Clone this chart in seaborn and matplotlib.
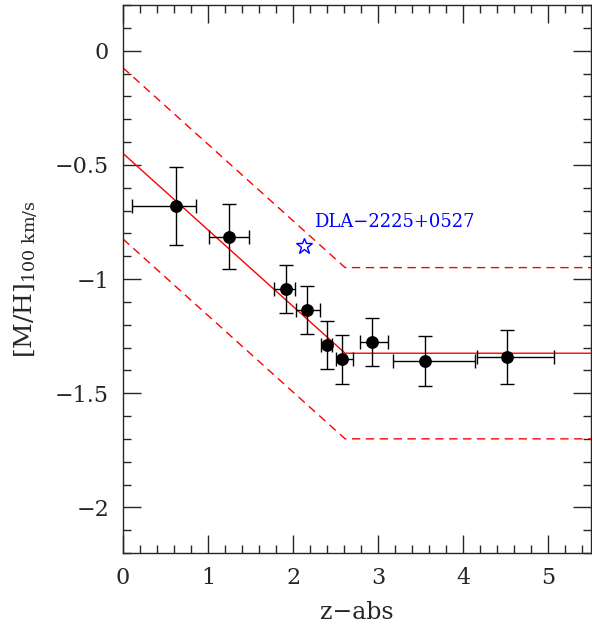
import numpy as np
import pandas as pd
import matplotlib
matplotlib.use("Agg")
import matplotlib.pyplot as plt
import seaborn as sns
from matplotlib.ticker import MultipleLocator, FuncFormatter

# ---- data ----
z_abs = [0.62, 1.25, 1.92, 2.165, 2.40, 2.575, 2.925, 3.545, 4.51]
mh = [-0.68, -0.814, -1.044, -1.134, -1.29, -1.352, -1.277, -1.36, -1.342]
z_lo = [0.51, 0.24, 0.15, 0.135, 0.07, 0.075, 0.145, 0.375, 0.355]
z_hi = [0.24, 0.225, 0.10, 0.145, 0.06, 0.125, 0.195, 0.595, 0.56]
mh_err = [0.172, 0.143, 0.107, 0.105, 0.105, 0.107, 0.105, 0.11, 0.117]

# fit: linear decline then flat, with +-scatter band
fit_z = [0.0, 2.61, 5.5]
fit_mh = [-0.45, -1.325, -1.325]
band = 0.375

dla_name = "DLA\u22122225+0527"
dla_z = [2.125]
dla_mh = [-0.857]

df = pd.DataFrame({"z": z_abs, "mh": mh})
fit = pd.DataFrame({"z": fit_z, "mh": fit_mh})

sns.set_style("ticks")
plt.rcParams["font.family"] = ["DejaVu Serif", "DejaVu Sans"]
plt.rcParams["mathtext.fontset"] = "dejavuserif"

fig = plt.figure(figsize=(5.92, 6.28), dpi=100)
ax = fig.add_axes([0.2078, 0.1194, 0.7905, 0.8726])

# fit lines
sns.lineplot(data=fit, x="z", y="mh", color="red", lw=1.0, ax=ax, zorder=2)
for s in (band, -band):
    ax.plot(fit["z"], fit["mh"] + s, color="red", lw=1.0, ls=(0, (6, 4)), zorder=2)

# data with error bars
ax.errorbar(z_abs, mh, xerr=[z_lo, z_hi], yerr=mh_err, fmt="none",
            ecolor="black", elinewidth=1.0, capsize=5, capthick=1.0, zorder=3)
sns.scatterplot(data=df, x="z", y="mh", color="black", s=85, edgecolor="black",
                linewidth=0, ax=ax, zorder=4)

# highlighted DLA
ax.plot(dla_z, dla_mh, marker="*", ms=12, mfc="none", mec="blue", mew=1.0, ls="none", zorder=5)
ax.text(2.25, -0.75, dla_name, color="blue", fontsize=13, va="center", ha="left")

ax.set_xlim(0, 5.5)
ax.set_ylim(-2.2, 0.2)
ax.xaxis.set_major_locator(MultipleLocator(1))
ax.xaxis.set_minor_locator(MultipleLocator(0.2))
ax.yaxis.set_major_locator(MultipleLocator(0.5))
ax.yaxis.set_minor_locator(MultipleLocator(0.1))
ax.yaxis.set_major_formatter(FuncFormatter(lambda v, p: f"{v:g}".replace("-", "\u2212")))
ax.tick_params(which="both", direction="in", top=True, right=True, width=1.0, labelsize=16)
ax.tick_params(which="major", length=13, pad=10)
ax.tick_params(which="minor", length=6)
for sp in ax.spines.values():
    sp.set_linewidth(1.0)

ax.set_xlabel("z\u2212abs", fontsize=17, labelpad=9)
ax.set_ylabel(r"[M/H]$_{\rm 100\ km/s}$", fontsize=18, labelpad=10)

fig.savefig("out.png", dpi=100)
